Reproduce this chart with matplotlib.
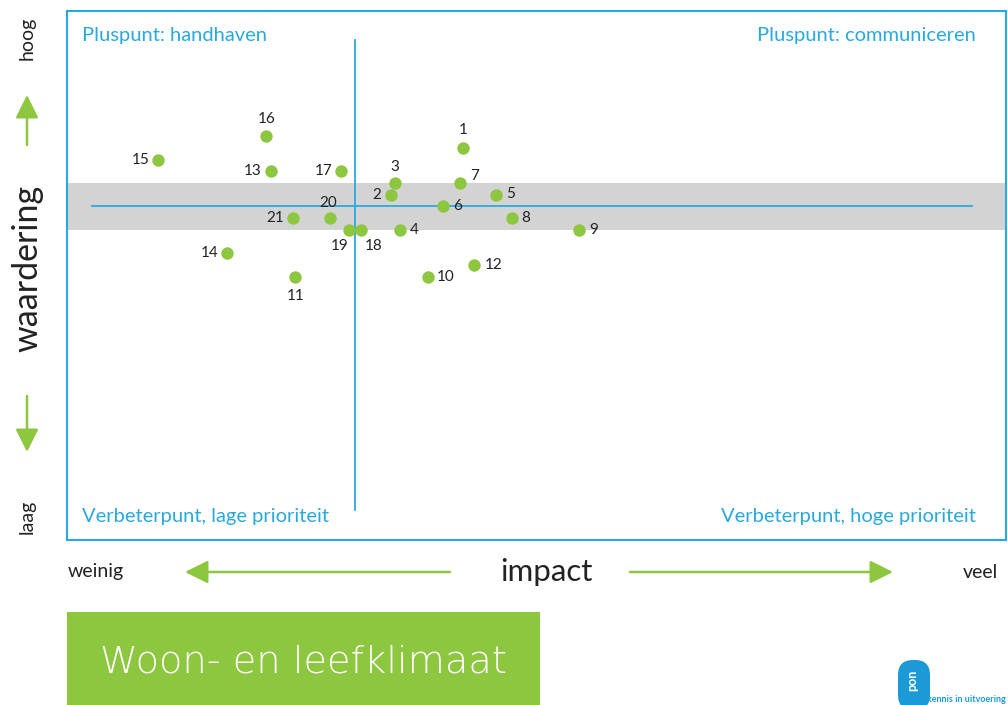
import matplotlib
matplotlib.use("Agg")
import matplotlib.pyplot as plt
from matplotlib.patches import Rectangle, FancyBboxPatch

# impact (x) and waardering (y) relative to the mean, per item
ids = ["1", "2", "3", "4", "5", "6", "7", "8", "9", "10", "11",
       "12", "13", "14", "15", "16", "17", "18", "19", "20", "21"]
impact = [9.2, 3.1, 3.4, 3.8, 12.0, 7.5, 9.0, 13.4, 19.1, 6.2, -5.1,
          10.2, -7.2, -10.9, -16.8, -7.6, -1.2, 0.5, -0.5, -2.1, -5.3]
waardering = [5, 1, 2, -2, 1, 0, 2, -1, -2, -6, -6,
              -5, 3, -4, 4, 6, 3, -2, -2, -1, -1]
# where each number sits relative to its dot (pixels)
label_pos = {"1": (0, 18), "2": (-15, 0), "3": (0, 16), "4": (15, 0), "5": (15, 1),
             "6": (15, 0), "7": (14, 7), "8": (14, 0), "9": (15, 0), "10": (18, 0),
             "11": (0, -19), "12": (19, 0), "13": (-18, 0), "14": (-18, 0),
             "15": (-18, 0), "16": (1, 17), "17": (-17, 0), "18": (13, -16),
             "19": (-10, -16), "20": (-2, 15), "21": (-18, 0)}

GREEN = "#8dc63f"
BLUE = "#29a9e0"
INK = "#222222"
FONT = "Lato"

W, H = 1008, 705
fig = plt.figure(figsize=(W / 100, H / 100), dpi=100)

# decoration layer in pixel coordinates
deco = fig.add_axes([0, 0, 1, 1])
deco.set_xlim(0, W)
deco.set_ylim(H, 0)
deco.axis("off")

def arrow(x0, y0, x1, y1):
    deco.annotate("", xy=(x1, y1), xytext=(x0, y0),
                  arrowprops=dict(arrowstyle="-|>,head_length=1.0,head_width=0.5",
                                  color=GREEN, lw=1.8, mutation_scale=14,
                                  shrinkA=0, shrinkB=0))

deco.text(27, 38, "hoog", rotation=90, ha="center", va="center",
          fontsize=14, family=FONT, color=INK)
arrow(27, 145, 27, 95)
deco.text(27, 268, "waardering", rotation=90, ha="center", va="center",
          fontsize=24.5, family=FONT, color=INK)
arrow(27, 396, 27, 452)
deco.text(27, 517, "laag", rotation=90, ha="center", va="center",
          fontsize=14, family=FONT, color=INK)

deco.text(68, 572, "weinig", ha="left", va="center", fontsize=14,
          family=FONT, color=INK)
arrow(450, 572, 185, 572)
deco.text(546, 572, "impact", ha="center", va="center", fontsize=22.5,
          family=FONT, color=INK)
arrow(630, 572, 893, 572)
deco.text(998, 572, "veel", ha="right", va="center", fontsize=14,
          family=FONT, color=INK)

# title block
deco.add_patch(Rectangle((67, 612), 473, 93, color=GREEN, lw=0))
deco.text(100, 662, "Woon- en leefklimaat", ha="left", va="center",
          fontsize=27.5, family="DejaVu Sans", fontweight="light", color="white")

# logo
deco.add_patch(FancyBboxPatch((898, 660), 32, 50, boxstyle="round,pad=0,rounding_size=15",
                              color="#1b9ad7", lw=0))
deco.text(912, 680, "pon", rotation=90, ha="center", va="center",
          fontsize=9, family=FONT, fontweight="bold", color="white")
deco.text(966, 699, "kennis in uitvoering", ha="center", va="center",
          fontsize=6.5, family=FONT, fontweight="bold", color="#1b9ad7")

# main quadrant chart
ax = fig.add_axes([67 / W, (H - 540) / H, (1006 - 67) / W, (540 - 11) / H])
ax.set_xlim(-24.6, 55.6)
ax.set_ylim(-28.5, 16.7)
for s in ax.spines.values():
    s.set_color(BLUE)
    s.set_linewidth(1.5)
ax.set_xticks([])
ax.set_yticks([])

ax.axhspan(-2, 2, color="#d3d3d3", lw=0, zorder=1)
ax.axhline(0, xmin=0.027, xmax=0.964, color=BLUE, lw=1.3, zorder=2)
ax.axvline(0, ymin=0.057, ymax=0.945, color=BLUE, lw=1.3, zorder=2)

ax.scatter(impact, waardering, s=80, color=GREEN, lw=0, zorder=3)
for name, x, y in zip(ids, impact, waardering):
    dx, dy = label_pos[name]
    ax.annotate(name, (x, y), xytext=(dx, dy), textcoords="offset pixels",
                ha="center", va="center", fontsize=11, family=FONT,
                color=INK, zorder=4)

ax.text(0.016, 0.953, "Pluspunt: handhaven", transform=ax.transAxes,
        ha="left", va="center", fontsize=14.5, family=FONT, color=BLUE)
ax.text(0.968, 0.953, "Pluspunt: communiceren", transform=ax.transAxes,
        ha="right", va="center", fontsize=14.5, family=FONT, color=BLUE)
ax.text(0.016, 0.044, "Verbeterpunt, lage prioriteit", transform=ax.transAxes,
        ha="left", va="center", fontsize=14.5, family=FONT, color=BLUE)
ax.text(0.968, 0.044, "Verbeterpunt, hoge prioriteit", transform=ax.transAxes,
        ha="right", va="center", fontsize=14.5, family=FONT, color=BLUE)

fig.savefig("out.png", dpi=100)
